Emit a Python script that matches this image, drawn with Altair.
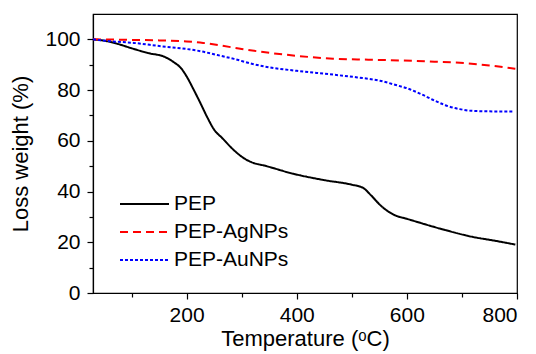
import altair as alt
import pandas as pd

pep_x = [30, 50, 75, 100, 130, 160, 176, 190, 200, 212, 225, 237, 250, 265, 285, 305, 321, 340, 394, 450, 500, 520, 535, 550, 563, 580, 599, 660, 720, 760, 797]
pep_y = [100, 99.5, 98.2, 96.5, 94.6, 93.1, 91.1, 88.6, 85.4, 80.5, 74.9, 69.5, 64.4, 61, 56.5, 53, 51.3, 50.3, 47, 44.5, 42.7, 41.5, 38.5, 35, 32.6, 30.5, 29.3, 25.4, 22.1, 20.6, 19.1]

ag_x = [30, 100, 150, 200, 230, 262, 300, 350, 400, 466, 530, 587, 650, 708, 750, 797]
ag_y = [100, 99.8, 99.6, 99.2, 98.6, 97.6, 96.2, 94.7, 93.5, 92.4, 92.0, 91.7, 91.2, 90.6, 89.7, 88.4]

au_x = [30, 60, 104, 153, 200, 226, 256, 286, 320, 352, 400, 466, 510, 551, 580, 599, 625, 647, 670, 696, 720, 760, 795]
au_y = [100, 99.3, 98.6, 97.3, 96.2, 95.3, 93.8, 92.3, 90.3, 88.9, 87.6, 86.1, 85.0, 83.7, 82.0, 80.8, 78.5, 76.2, 74.0, 72.5, 71.8, 71.6, 71.6]

series = ["PEP", "PEP-AgNPs", "PEP-AuNPs"]
colors = ["#000000", "#ff0000", "#0000ff"]
dashes = [[1, 0], [8, 5], [3, 2]]

x_major = [200, 400, 600, 800]
x_minor = [100, 300, 500, 700]
y_major = [0, 20, 40, 60, 80, 100]
y_minor = [10, 30, 50, 70, 90]

rows = []
for name, xs, ys in zip(series, [pep_x, ag_x, au_x], [pep_y, ag_y, au_y]):
    for i, (a, b) in enumerate(zip(xs, ys)):
        rows.append({"T": a, "W": b, "s": name, "i": i})
df = pd.DataFrame(rows)

FONT = "Liberation Sans"
xscale = alt.Scale(domain=[30, 800], nice=False, zero=False)
yscale = alt.Scale(domain=[0, 110], nice=False)

common_axis = dict(domainColor="#000000", domainWidth=1.2, tickColor="#000000", tickWidth=1.2,
                   labelFont=FONT, labelFontSize=21, labelColor="#000000",
                   titleFont=FONT, titleFontSize=22, titleFontWeight="normal", titleColor="#000000",
                   grid=False)

lines = alt.Chart(df).mark_line(strokeWidth=2, interpolate="monotone").encode(
    x=alt.X("T:Q", scale=xscale,
            axis=alt.Axis(values=x_major, tickSize=6, labelPadding=5, title="Temperature (ᵒC)",
                          titlePadding=3, orient="bottom", **common_axis)),
    y=alt.Y("W:Q", scale=yscale,
            axis=alt.Axis(values=y_major, tickSize=6, labelPadding=7, title="Loss weight (%)",
                          titlePadding=12, orient="left", **common_axis)),
    color=alt.Color("s:N", scale=alt.Scale(domain=series, range=colors),
                    legend=alt.Legend(title=None, orient="none", legendX=26, legendY=180,
                                      symbolType="stroke", symbolSize=2401, symbolStrokeWidth=2,
                                      clipHeight=20, rowPadding=7,
                                      labelFont=FONT, labelFontSize=21, labelColor="#000000",
                                      labelOffset=4)),
    strokeDash=alt.StrokeDash("s:N", scale=alt.Scale(domain=series, range=dashes), legend=None),
    order="i:Q",
    detail="s:N",
)

minor = alt.Chart(df).mark_line(opacity=0).encode(
    x=alt.X("T:Q", scale=xscale,
            axis=alt.Axis(values=x_minor, tickSize=4, labels=False, domain=False, title=None,
                          orient="bottom", grid=False, tickColor="#000000", tickWidth=1.2)),
    y=alt.Y("W:Q", scale=yscale,
            axis=alt.Axis(values=y_minor, tickSize=4, labels=False, domain=False, title=None,
                          orient="left", grid=False, tickColor="#000000", tickWidth=1.2)),
    detail="s:N",
)

chart = alt.layer(lines, minor).resolve_axis(x="independent", y="independent").resolve_scale(
    x="shared", y="shared"
).properties(
    width=424, height=279,
    autosize=alt.AutoSizeParams(type="none"),
    padding={"left": 93, "top": 14, "right": 19, "bottom": 61},
    background="white",
).configure_view(stroke="#000000", strokeWidth=1.2)

chart.save("out.html", embed_options={"renderer": "svg", "actions": False})
